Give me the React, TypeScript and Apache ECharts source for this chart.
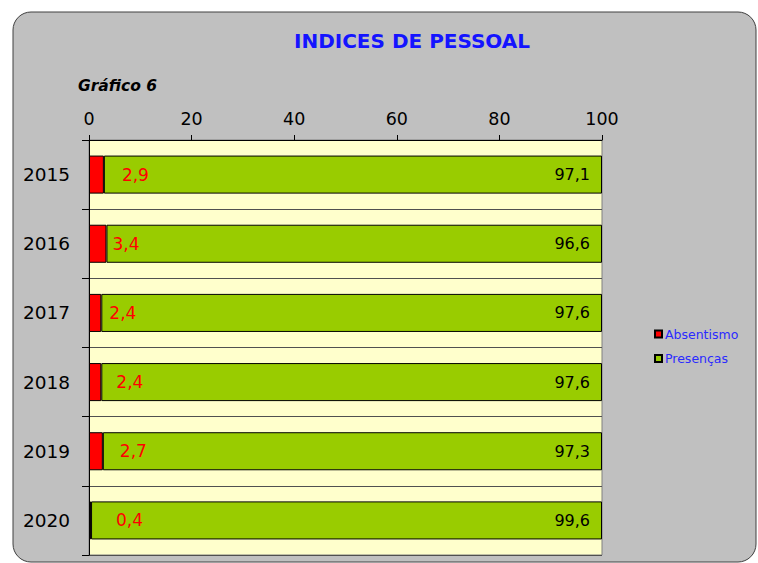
import React, { useEffect, useRef } from "react";
import * as echarts from "echarts";

const years = ["2015", "2016", "2017", "2018", "2019", "2020"];
const absentismo = [2.9, 3.4, 2.4, 2.4, 2.7, 0.4];
const presencas = [97.1, 96.6, 97.6, 97.6, 97.3, 99.6];
const xTicks = { min: 0, max: 100, interval: 20 };

// label nudges (px) for the red labels, as placed in the original
const absLabelNudge = [18, 6, 8, 15, 17, 25];

const FONT = "'DejaVu Sans', Verdana, sans-serif";
const fmt = (v: number) => v.toFixed(1).replace(".", ",");

export default function App() {
  const ref = useRef<HTMLDivElement>(null);
  useEffect(() => {
    if (!ref.current) return;
    const chart = echarts.init(ref.current, null, { renderer: "svg" });
    chart.setOption({
      animation: false,
      backgroundColor: "#ffffff",
      textStyle: { fontFamily: FONT },
      graphic: [
        {
          type: "rect",
          z: -10,
          shape: { x: 13, y: 12, width: 743, height: 550, r: 18 },
          style: { fill: "#c0c0c0", stroke: "#404040", lineWidth: 1 },
        },
        {
          type: "text",
          x: 412,
          y: 41,
          style: {
            text: "INDICES DE PESSOAL",
            fill: "#1414ff",
            font: `bold 20px ${FONT}`,
            align: "center",
            verticalAlign: "middle",
          },
        },
        {
          type: "text",
          x: 78,
          y: 86,
          style: {
            text: "Gráfico 6",
            fill: "#000000",
            font: `italic bold 15.5px ${FONT}`,
            align: "left",
            verticalAlign: "middle",
          },
        },
      ],
      legend: {
        orient: "vertical",
        left: 649,
        top: 322,
        itemWidth: 7,
        itemHeight: 7,
        itemGap: 10.5,
        icon: "rect",
        textStyle: {
          color: "#2a2aff",
          fontSize: 12.5,
          lineHeight: 14,
          fontFamily: FONT,
          padding: [0, 0, 0, -2],
        },
        data: ["Absentismo", "Presenças"],
      },
      grid: {
        left: 89,
        right: 156,
        top: 140,
        bottom: 8,
        show: true,
        backgroundColor: "#ffffcc",
        borderColor: "#808080",
        borderWidth: 1,
      },
      xAxis: {
        type: "value",
        position: "top",
        min: xTicks.min,
        max: xTicks.max,
        interval: xTicks.interval,
        axisLine: { show: true, lineStyle: { color: "#000000", width: 1 } },
        axisTick: { show: true, length: 5, lineStyle: { color: "#000000" } },
        axisLabel: { color: "#000000", fontSize: 17.5, margin: 12, fontFamily: FONT },
        splitLine: { show: false },
      },
      yAxis: {
        type: "category",
        data: years,
        inverse: true,
        axisLine: { show: true, lineStyle: { color: "#000000", width: 1 } },
        axisTick: { show: true, length: 7, lineStyle: { color: "#000000" } },
        axisLabel: { color: "#000000", fontSize: 18.5, margin: 19, fontFamily: FONT },
        splitLine: { show: true, interval: 0, lineStyle: { color: "#505050", width: 1 } },
      },
      series: [
        {
          name: "Absentismo",
          type: "bar",
          stack: "total",
          barCategoryGap: "45%",
          itemStyle: { color: "#ff0000", borderColor: "#000000", borderWidth: 1 },
          data: absentismo.map((v, i) => ({
            value: v,
            label: { distance: absLabelNudge[i] },
          })),
          label: {
            show: true,
            position: "right",
            color: "#ff0000",
            fontSize: 17,
            fontFamily: FONT,
            formatter: (p: any) => fmt(p.value),
          },
        },
        {
          name: "Presenças",
          type: "bar",
          stack: "total",
          barCategoryGap: "45%",
          itemStyle: { color: "#99cc00", borderColor: "#000000", borderWidth: 1 },
          data: presencas,
          label: {
            show: true,
            position: "insideRight",
            distance: 12,
            color: "#000000",
            fontSize: 16,
            fontFamily: FONT,
            formatter: (p: any) => fmt(p.value),
          },
        },
      ],
    });
    return () => chart.dispose();
  }, []);
  return (
    <div
      ref={ref}
      style={{ position: "fixed", left: 0, top: 0, width: 758, height: 563 }}
    />
  );
}
